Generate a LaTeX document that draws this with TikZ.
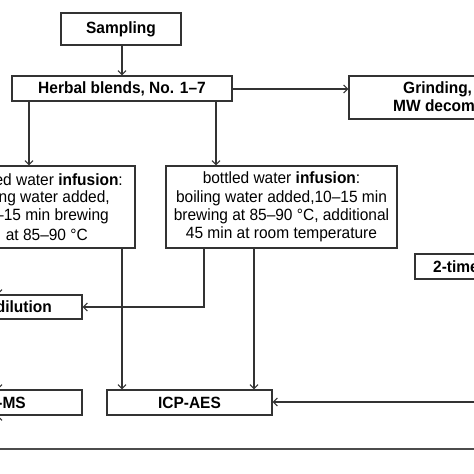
\documentclass[tikz,border=0pt]{standalone}
\usepackage{fontspec}
\setmainfont{Liberation Sans}[FakeStretch=0.95]
\usetikzlibrary{arrows.meta}
\begin{document}
\begin{tikzpicture}[x=1pt,y=-1pt,
  box/.style={draw=black!80, line width=1.3pt, rectangle, inner sep=0pt},
  conn/.style={draw=black!80, line width=1.1pt, -{Straight Barb[length=4pt,width=8pt]}},
  bt/.style={font=\fontsize{16.3}{18}\selectfont\bfseries, inner sep=0pt},
  nt/.style={font=\fontsize{16.3}{18.3}\selectfont, inner sep=0pt, align=center},
]
\useasboundingbox (0,0) rectangle (474,474);
\clip (0,0) rectangle (474,474);
% boxes
\node[box, bt, minimum width=120pt, minimum height=32pt] (samp) at (121,29) {Sampling};
\node[box, bt, minimum width=220pt, minimum height=25pt] (herb) at (122,88.5) {Herbal blends, No. 1–7};
\node[box, minimum width=211pt, minimum height=43pt] (grind) at (454.5,97.5) {};
\node[bt, anchor=west] (g1) at (403,89) {Grinding,};
\node[bt, anchor=west] (g2) at (393,106) {MW decom};
\node[box, minimum width=176pt, minimum height=82pt] (linf) at (47,207) {};
\node[nt, anchor=east] (lt1) at (123,180) {ed water \textbf{infusion}:};
\node[nt, anchor=east] (lt2) at (110,198.3) {ing water added,};
\node[nt, anchor=east] (lt3) at (109,216.6) {–15 min brewing};
\node[nt, anchor=east] (lt4) at (88,234.9) {at 85–90 °C};
\node[box, nt, minimum width=231pt, minimum height=82pt] (rinf) at (281.5,207) {bottled water \textbf{infusion}:\\boiling water added,10–15 min\\brewing at 85–90 °C, additional\\45 min at room temperature};
\node[box, minimum width=142pt, minimum height=24pt] (dil) at (11,307) {};
\node[bt, anchor=east] (dilt) at (52,307) {dilution};
\node[box, minimum width=142pt, minimum height=25pt] (ms) at (11,402.5) {};
\node[bt, anchor=east] (mst) at (26,402.5) {-MS};
\node[box, bt, minimum width=165pt, minimum height=25pt] (icp) at (189.5,402.5) {ICP-AES};
\node[box, minimum width=130pt, minimum height=25pt] (two) at (480,266.5) {};
\node[bt, anchor=west] (twot) at (433,266.5) {2-time};
% helper coordinates
\coordinate (xa) at (29,0);
\coordinate (xb) at (216,0);
\coordinate (xc) at (122,0);
\coordinate (xd) at (204,0);
\coordinate (xe) at (254,0);
\coordinate (xl) at (-2,0);
\coordinate (yg) at (0,89);
\coordinate (yi) at (0,402);
\coordinate (rin) at (490,402);
\coordinate (lbot) at (-2,470);
\coordinate (ltop) at (-2,260);
\coordinate (bl) at (-5,449);
\coordinate (br) at (480,449);
% connectors
\draw[conn] (samp.south -| herb.north) -- (herb.north);
\draw[conn] (yg -| herb.east) -- (yg -| grind.west);
\draw[conn] (xa |- herb.south) -- (xa |- linf.north);
\draw[conn] (xb |- herb.south) -- (xb |- rinf.north);
\draw[conn] (xc |- linf.south) -- (xc |- icp.north);
\draw[conn] (xd |- rinf.south) |- (dil.east);
\draw[conn] (xe |- rinf.south) -- (xe |- icp.north);
\draw[conn] (rin) -- (yi -| icp.east);
\draw[conn] (ltop) -- (xl |- dil.north);
\draw[conn] (xl |- dil.south) -- (xl |- ms.north);
\draw[conn] (lbot) -- (xl |- ms.south);
\draw[draw=black!70, line width=1.8pt] (bl) -- (br);
\end{tikzpicture}
\end{document}
